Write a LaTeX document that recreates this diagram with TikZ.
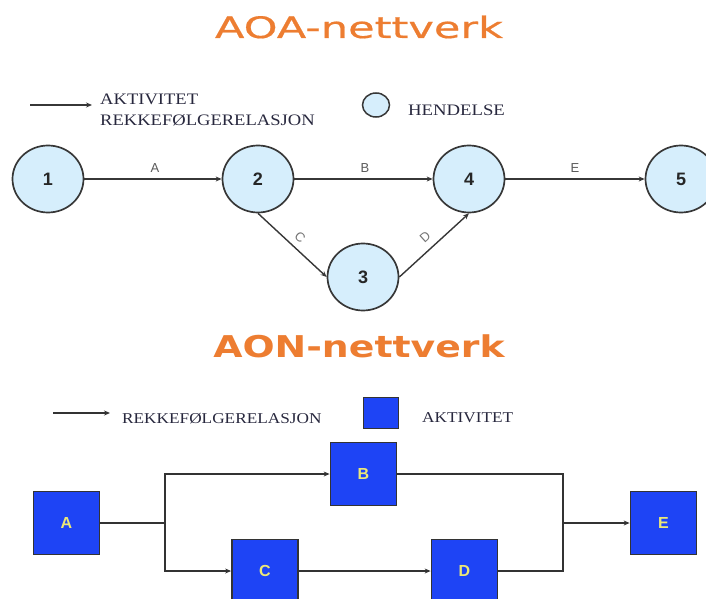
\documentclass[tikz,border=0pt]{standalone}
\usepackage{graphicx}
\usepackage{fontspec}
\setmainfont{Liberation Serif}
\newfontfamily\titlefont[FakeBold=0.6]{DejaVu Sans}
\newfontfamily\titleboldfont{DejaVu Sans Bold}
\newfontfamily\arialf{Liberation Sans}
\usetikzlibrary{shapes.geometric,arrows.meta}
\definecolor{orng}{RGB}{237,125,49}
\definecolor{evfill}{RGB}{214,238,252}
\definecolor{actblue}{RGB}{30,68,245}
\definecolor{lbltxt}{RGB}{236,232,120}
\definecolor{legtxt}{RGB}{40,40,62}
\definecolor{edgegray}{RGB}{55,55,55}
\begin{document}
\begin{tikzpicture}[x=1pt,y=-1pt,
  event/.style={ellipse, draw=edgegray, line width=1.7pt, fill=evfill,
    minimum width=71pt, minimum height=67pt, inner sep=0pt,
    font=\arialf\bfseries\fontsize{18}{18}\selectfont, text=black!85},
  act/.style={rectangle, draw=black!80, line width=1.8pt, fill=actblue,
    minimum width=66pt, minimum height=63pt, inner sep=0pt,
    font=\arialf\bfseries\fontsize{16}{16}\selectfont, text=lbltxt},
  conn/.style={draw=edgegray, line width=1.4pt},
  arr/.style={conn, -{Stealth[length=6pt,width=5pt]}},
  conntwo/.style={draw=black!80, line width=1.8pt},
  arrtwo/.style={conntwo, -{Stealth[length=6pt,width=5pt]}},
  elabel/.style={font=\arialf\fontsize{13}{13}\selectfont, text=black!65, inner sep=0pt},
  legtext/.style={font=\fontsize{16}{16}\selectfont, text=legtxt, inner sep=0pt, anchor=base west},
  legtexttwo/.style={font=\fontsize{15}{15}\selectfont, text=legtxt, inner sep=0pt, anchor=base west},
  titletext/.style={text=orng, inner sep=0pt, anchor=base}
]
\useasboundingbox (0,0) rectangle (706,599);

% ---------- AOA ----------
\node[titletext, font=\titlefont\fontsize{29.5}{30}\selectfont] (t1) at (359,38)
  {\scalebox{1.46}[1]{AOA-nettverk}};

\coordinate (la1) at (30,105);
\coordinate (la2) at (92,105);
\draw[arr] (la1) -- (la2);
\node[legtext] (l1) at (100,105) {\scalebox{1.16}[1]{AKTIVITET}};
\node[legtext] (l2) at (100,125) {\scalebox{1.16}[1]{REKKEFØLGERELASJON}};
\node[ellipse, draw=edgegray, line width=1.5pt, fill=evfill,
  minimum width=27pt, minimum height=24pt, inner sep=0pt] (lc) at (376,105) {};
\node[legtext] (l3) at (408,115) {\scalebox{1.17}[1]{HENDELSE}};

\node[event] (n1) at (48,179) {1};
\node[event] (n2) at (258,179) {2};
\node[event] (n3) at (363,277) {3};
\node[event] (n4) at (469,179) {4};
\node[event] (n5) at (681,179) {5};

\draw[arr] (n1) -- (n2);
\draw[arr] (n2) -- (n4);
\draw[arr] (n4) -- (n5);
\draw[arr] (n2.south) -- (n3.west);
\draw[arr] (n3.east) -- (n4.south);

\node[elabel] (eA) at (155,168) {A};
\node[elabel] (eB) at (365,168) {B};
\node[elabel] (eE) at (575,168) {E};
\node[elabel, rotate=-42, text=black!55] (eC) at (300,237) {C};
\node[elabel, rotate=42, text=black!55] (eD) at (425,237) {D};

% ---------- AON ----------
\node[titletext, font=\titleboldfont\fontsize{30}{30}\selectfont] (t2) at (359,357)
  {\scalebox{1.26}[1]{AON-nettverk}};

\coordinate (lb1) at (53,413);
\coordinate (lb2) at (110,413);
\draw[arrtwo] (lb1) -- (lb2);
\node[legtexttwo] (l4) at (122,423) {\scalebox{1.15}[1]{REKKEFØLGERELASJON}};
\node[act, minimum width=35pt, minimum height=31pt] (lsq) at (381,413) {};
\node[legtexttwo] (l5) at (422,422) {\scalebox{1.15}[1]{AKTIVITET}};

\node[act] (A) at (66.5,523) {A};
\node[act] (B) at (363.5,474) {B};
\node[act] (C) at (265,571) {C};
\node[act] (D) at (464.5,571) {D};
\node[act] (E) at (663.5,523) {E};

\coordinate (j1) at (165,523);
\coordinate (j2) at (563,523);

\draw[conntwo] (A.east) -- (j1);
\draw[arrtwo] (j1) |- (B.west);
\draw[arrtwo] (j1) |- (C.west);
\draw[arrtwo] (C) -- (D);
\draw[conntwo] (B.east) -| (j2);
\draw[conntwo] (D.east) -| (j2);
\draw[arrtwo] (j2) -- (E.west);
\end{tikzpicture}
\end{document}
